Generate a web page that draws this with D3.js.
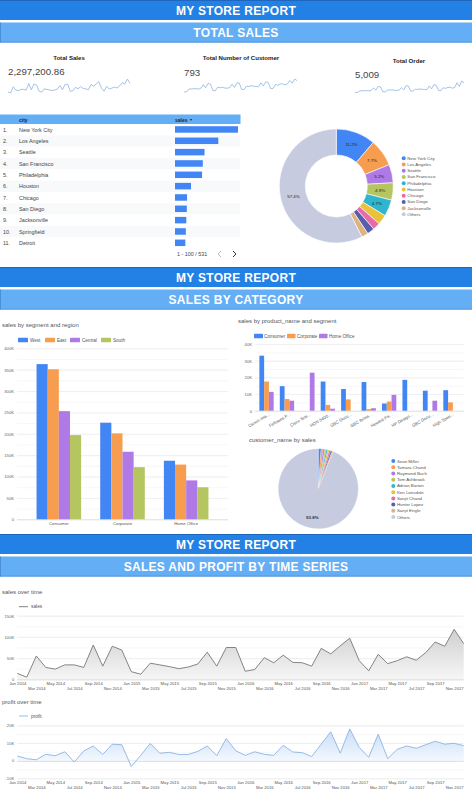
<!DOCTYPE html>
<html>
<head>
<meta charset="utf-8">
<script src="https://cdn.jsdelivr.net/npm/d3@7"></script>
<style>
  body { margin: 0; background: #fff; overflow: hidden; }
  svg { display: block; font-family: "Liberation Sans", Arial, sans-serif; }
  .domain { display: none; }
</style>
</head>
<body>
<div id="chart"></div>
<script>
// ---- data ----
const months = [
  "Jan 2014","Feb 2014","Mar 2014","Apr 2014","May 2014","Jun 2014","Jul 2014","Aug 2014","Sep 2014","Oct 2014","Nov 2014","Dec 2014",
  "Jan 2015","Feb 2015","Mar 2015","Apr 2015","May 2015","Jun 2015","Jul 2015","Aug 2015","Sep 2015","Oct 2015","Nov 2015","Dec 2015",
  "Jan 2016","Feb 2016","Mar 2016","Apr 2016","May 2016","Jun 2016","Jul 2016","Aug 2016","Sep 2016","Oct 2016","Nov 2016","Dec 2016",
  "Jan 2017","Feb 2017","Mar 2017","Apr 2017","May 2017","Jun 2017","Jul 2017","Aug 2017","Sep 2017","Oct 2017","Nov 2017","Dec 2017"
];
const salesByMonth = [
  14, 5, 55, 28, 24, 34, 34, 28, 81, 31, 78, 69,
  18, 12, 38, 34, 30, 25, 29, 36, 64, 31, 75, 75,
  19, 23, 51, 39, 57, 40, 39, 31, 73, 60, 79, 97,
  44, 20, 59, 37, 44, 53, 45, 63, 88, 78, 118, 84
];
const profitByMonth = [
  2.6, 1.1, 0.5, 3.6, 2.8, 5, -0.8, 5.5, 8.3, 3.5, 9.3, 9,
  -3.3, 3, 9.7, 4.2, 4.7, 3.5, 3.5, 5.2, 8.3, 2.8, 12.5, 5.6,
  3, 5, 3.6, 3, 8.7, 4.9, 4.5, 2.3, 9.3, 16.4, 4.2, 18,
  7.5, 1.9, 15, 1.1, 6.4, 8.3, 7, 9, 11, 9.3, 9.8, 8.5
];
const customersByMonth = [
  30, 28, 58, 60, 62, 64, 58, 68, 105, 72, 118, 112,
  44, 40, 78, 72, 78, 70, 68, 74, 110, 76, 125, 122,
  56, 54, 90, 86, 96, 88, 86, 82, 125, 92, 135, 130,
  66, 62, 108, 98, 112, 114, 102, 112, 150, 120, 165, 148
];
const ordersByMonth = [
  30, 28, 60, 62, 65, 65, 60, 70, 120, 75, 150, 140,
  45, 40, 80, 75, 80, 72, 70, 75, 125, 80, 165, 160,
  60, 55, 95, 90, 100, 90, 90, 85, 160, 100, 185, 175,
  70, 65, 125, 110, 130, 135, 115, 130, 225, 150, 260, 225
];
const cities = ["New York City","Los Angeles","Seattle","San Francisco","Philadelphia","Houston","Chicago","San Diego","Jacksonville","Springfield","Detroit"];
const citySales = [256, 176, 120, 113, 110, 65, 49, 48, 46, 44, 42];
const donutLabels = ["New York City","Los Angeles","Seattle","San Francisco","Philadelphia","Houston","Chicago","San Diego","Jacksonville","Others"];
const donutShares = [11.2, 7.7, 5.2, 4.9, 4.7, 2.8, 2.1, 2.1, 1.9, 57.4];
const segments = ["Consumer","Corporate","Home Office"];
const regions = ["West","East","Central","South"];
const westSales = [363, 226, 137];
const eastSales = [351, 201, 128];
const centralSales = [253, 158, 91];
const southSales = [197, 122, 75];
const products = ["Canon ima...","Fellowes P...","Cisco Tele...","HON 5400...","GBC Docu...","GBC Ibima...","Hewlett Pa...","HP Design...","GBC Docu... ","High Spee..."];
const consumerProducts = [33, 14.7, 0, 17.5, 13, 17.2, 4.3, 18.5, 12, 12.3];
const corporateProducts = [17.5, 7, 0, 3.5, 6.8, 1, 5.5, 0, 0, 5];
const homeOfficeProducts = [11.3, 6, 22.8, 1.2, 0, 1.5, 9.5, 0, 6, 0];
const customers = ["Sean Miller","Tamara Chand","Raymond Buch","Tom Ashbrook","Adrian Barton","Ken Lonsdale","Sanjit Chand","Hunter Lopez","Sanjit Engle","Others"];
const customerShares = [1.1, 0.8, 0.7, 0.6, 0.6, 0.6, 0.6, 0.6, 0.5, 93.8];
const palette = ["#4285f4","#f79d4f","#b07ae6","#b5c55f","#2fb5d0","#e9c23b","#e86ba8","#5a5cb0","#dcb47f","#c6cbe0"];

const svg = d3.select("#chart").append("svg").attr("width", 472).attr("height", 800);
const defs = svg.append("defs");

function label(x, y, txt, size, opts) {
  opts = opts || {};
  return svg.append("text")
    .attr("x", x).attr("y", y)
    .attr("text-anchor", opts.anchor || "start")
    .attr("dominant-baseline", "central")
    .attr("font-size", size)
    .attr("font-weight", opts.weight || "normal")
    .attr("letter-spacing", opts.spacing || 0)
    .attr("fill", opts.fill || "#555")
    .text(txt);
}

// ---- banners ----
function banner(top, title) {
  svg.append("rect").attr("x", 0).attr("y", top).attr("width", 472).attr("height", 20).attr("fill", "#2381e5");
  svg.append("rect").attr("x", 0).attr("y", top).attr("width", 472).attr("height", 1).attr("fill", "#1f66bd");
  label(236, top + 10.5, "MY STORE REPORT", 12, { anchor: "middle", weight: "bold", fill: "#fff", spacing: 0.3 });
  svg.append("rect").attr("x", 0).attr("y", top + 22.5).attr("width", 472).attr("height", 20).attr("fill", "#63aef5");
  svg.append("rect").attr("x", 0).attr("y", top + 22.5).attr("width", 1).attr("height", 20).attr("fill", "#4a8fd8");
  svg.append("rect").attr("x", 0).attr("y", top + 41.7).attr("width", 472).attr("height", 0.8).attr("fill", "#4a8fd8");
  label(236, top + 33, title, 12, { anchor: "middle", weight: "bold", fill: "#fff", spacing: 0.3 });
}
banner(0, "TOTAL SALES");
banner(267, "SALES BY CATEGORY");
banner(534, "SALES AND PROFIT BY TIME SERIES");

// ---- scorecards ----
function scorecard(cx, titleY, title, valueX, value, values, x0, x1, yTop, yBottom) {
  label(cx, titleY, title, 6.1, { anchor: "middle", weight: "bold", fill: "#222" });
  label(valueX, titleY + 14.5, value, 9.7, { fill: "#444" });
  const x = d3.scalePoint().domain(months).range([x0, x1]);
  const y = d3.scaleLinear().domain(d3.extent(values)).range([yBottom, yTop]);
  svg.append("path")
    .attr("d", d3.line().x((d, i) => x(months[i])).y(d => y(d))(values))
    .attr("fill", "none").attr("stroke", "#8fb4e0").attr("stroke-width", 0.8);
}
scorecard(69, 57, "Total Sales", 8, "2,297,200.86", salesByMonth, 8, 130, 79, 93);
scorecard(241, 57.5, "Total Number of Customer", 184, "793", customersByMonth, 184, 297, 79, 92);
scorecard(409, 60, "Total Order", 355, "5,009", ordersByMonth, 355, 464, 81, 92.5);

// ---- city table ----
const rowY = d3.scaleBand().domain(cities).range([124, 248.7]);
const cityX = d3.scaleLinear().domain([0, 256]).range([175, 238]);
svg.append("rect").attr("x", 0).attr("y", 114.5).attr("width", 240.5).attr("height", 9.5).attr("fill", "#63aef5");
label(19, 119.5, "city", 5, { weight: "bold", fill: "#223" });
label(175, 119.5, "sales", 5, { weight: "bold", fill: "#223" });
label(190, 119.5, "▾", 4, { fill: "#223" });
svg.selectAll(".row").data(cities).join("rect").attr("class", "row")
  .attr("x", 0).attr("y", d => rowY(d)).attr("width", 240).attr("height", rowY.bandwidth())
  .attr("fill", (d, i) => i % 2 ? "#f8f9fa" : "#fff");
cities.forEach((c, i) => {
  label(3, rowY(c) + 5.8, (i + 1) + ".", 5.4, { fill: "#444" });
  label(19, rowY(c) + 5.8, c, 5.4, { fill: "#444" });
});
svg.selectAll(".citybar").data(citySales).join("rect").attr("class", "citybar")
  .attr("x", cityX(0)).attr("y", (d, i) => rowY(cities[i]) + 2.2)
  .attr("width", d => cityX(d) - cityX(0)).attr("height", 6.5).attr("fill", palette[0]);
label(177, 254, "1 - 100 / 531", 5.4, { fill: "#444" });
svg.append("path").attr("d", "M221,251L218,254L221,257").attr("fill", "none").attr("stroke", "#aaa").attr("stroke-width", 0.8);
svg.append("path").attr("d", "M233,251L236,254L233,257").attr("fill", "none").attr("stroke", "#333").attr("stroke-width", 1);

// ---- donut and pie ----
function ring(cx, cy, outer, inner, values, gap) {
  const arc = d3.arc().innerRadius(inner).outerRadius(outer);
  const g = svg.append("g").attr("transform", `translate(${cx},${cy})`);
  const arcs = d3.pie().sort(null)(values);
  g.selectAll("path").data(arcs).join("path")
    .attr("d", arc)
    .attr("fill", (d, i) => palette[i])
    .attr("stroke", "#fff").attr("stroke-width", gap);
  return { g, arcs, arc };
}
function roundLegend(x, top, step, names) {
  svg.selectAll(null).data(names).join("circle")
    .attr("cx", x).attr("cy", (d, i) => top + i * step).attr("r", 2)
    .attr("fill", (d, i) => palette[i]);
  names.forEach((n, i) => label(x + 3.6, top + i * step, n, 4.4, { fill: "#555" }));
}
const donut = ring(336.3, 186, 57, 31, donutShares, 0.6);
donut.g.selectAll("text").data(donut.arcs.filter(d => d.data >= 4 )).join("text")
  .attr("transform", d => `translate(${donut.arc.centroid(d)})`)
  .attr("text-anchor", "middle").attr("dominant-baseline", "central")
  .attr("font-size", 4.4).attr("fill", "#222")
  .text(d => d.data.toFixed(1) + "%");
roundLegend(403.7, 158.3, 6.23, donutLabels);

label(249, 440, "customer_name by sales", 6);
const pie = ring(318.3, 488.7, 40, 0, customerShares, 0.2);
pie.g.append("text").attr("x", -6).attr("y", 28.5)
  .attr("text-anchor", "middle").attr("dominant-baseline", "central")
  .attr("font-size", 4.4).attr("font-weight", "bold").attr("fill", "#333")
  .text(customerShares[9].toFixed(1) + "%");
roundLegend(393.3, 461, 6.23, customers);

// ---- grouped bars ----
function grouped(cfg) {
  const y = d3.scaleLinear().domain([0, cfg.max]).range([cfg.bottom, cfg.top]);
  const g = svg.append("g");
  const gridLen = cfg.right - cfg.left;
  // lighter half-step lines first, then the labelled ones
  g.append("g").attr("transform", `translate(${cfg.left},0)`)
    .call(d3.axisLeft(y).tickValues(d3.range(0, cfg.max + 1, cfg.minor)).tickSize(-gridLen).tickFormat(""))
    .selectAll("line").attr("stroke", "#f4f4f4").attr("stroke-width", 0.7);
  g.append("g").attr("transform", `translate(${cfg.left},0)`)
    .call(d3.axisLeft(y).tickValues(d3.range(0, cfg.max + 1, cfg.major)).tickSize(-gridLen).tickFormat(d => d ? d + "K" : "0"))
    .call(a => a.selectAll("line").attr("stroke", d => d ? "#ececec" : "#d5d5d5").attr("stroke-width", 0.7))
    .call(a => a.selectAll("text").attr("x", -3).attr("font-size", 4.2).attr("fill", "#666").attr("font-family", "inherit"));
  const x0 = d3.scaleBand().domain(cfg.groups).range(cfg.band).paddingInner(cfg.inner).paddingOuter(cfg.inner / 2);
  const x1 = d3.scaleBand().domain(cfg.names).range([0, x0.bandwidth()]);
  cfg.names.forEach((name, s) => {
    g.selectAll(null).data(cfg.series[s]).join("rect")
      .attr("x", (d, i) => x0(cfg.groups[i]) + x1(name))
      .attr("y", d => y(d))
      .attr("width", x1.bandwidth() - cfg.gap)
      .attr("height", d => y(0) - y(d))
      .attr("fill", palette[s]);
  });
  return { x0, y };
}
function barLegend(y, swatches) {
  swatches.forEach((s, i) => {
    svg.append("rect").attr("x", s[0]).attr("y", y - 2.3).attr("width", s[1]).attr("height", 4.6).attr("rx", 0.6).attr("fill", palette[i]);
    label(s[2], y, s[3], 4.6, { fill: "#555" });
  });
}

label(2, 325, "sales by segment and region", 6);
barLegend(340, [[18, 10, 30, regions[0]], [45, 10, 57, regions[1]], [70, 10, 82, regions[2]], [101, 10, 113, regions[3]]]);
const c1 = grouped({
  groups: segments, names: regions, series: [westSales, eastSales, centralSales, southSales],
  max: 400, major: 50, minor: 25, left: 17, right: 228, top: 348.3, bottom: 519.3,
  band: [27, 218], inner: 0.3, gap: 0
});
segments.forEach(s => label(c1.x0(s) + c1.x0.bandwidth() / 2, 523.5, s, 4.3, { anchor: "middle", fill: "#555" }));

label(238, 321, "sales by product_name and segment", 6);
barLegend(336, [[254, 9, 264, segments[0]], [287, 8.5, 297, segments[1]], [319, 8.5, 329, segments[2]]]);
const c2 = grouped({
  groups: products, names: segments, series: [consumerProducts, corporateProducts, homeOfficeProducts],
  max: 40, major: 10, minor: 5, left: 255, right: 463.7, top: 344, bottom: 410.7,
  band: [256.3, 460.7], inner: 0.3, gap: 0
});
products.forEach(p => {
  const px = c2.x0(p) + c2.x0.bandwidth() / 2 + 3;
  svg.append("text").attr("transform", `translate(${px},414) rotate(-30)`)
    .attr("text-anchor", "end").attr("dominant-baseline", "central")
    .attr("font-size", 4.3).attr("fill", "#555").text(p);
});

// ---- time series ----
function timeSeries(cfg) {
  const x = d3.scalePoint().domain(months).range([17.3, 463.7]);
  const y = d3.scaleLinear().domain(cfg.domain).range([cfg.bottom, cfg.top]);
  const g = svg.append("g");
  g.append("g").attr("transform", "translate(17.3,0)")
    .call(d3.axisLeft(y).tickValues(d3.range(cfg.domain[0], cfg.domain[1] + 1, cfg.minor)).tickSize(-446.4).tickFormat(""))
    .selectAll("line").attr("stroke", "#f2f2f2").attr("stroke-width", 0.7);
  g.append("g").attr("transform", "translate(17.3,0)")
    .call(d3.axisLeft(y).tickValues(cfg.ticks).tickSize(-446.4).tickFormat(d => d ? d + "K" : "0"))
    .call(a => a.selectAll("line").attr("stroke", d => d ? "#ececec" : "#d5d5d5").attr("stroke-width", d => d ? 0.7 : 1))
    .call(a => a.selectAll("text").attr("x", -3).attr("font-size", 4.2).attr("fill", "#666").attr("font-family", "inherit"));
  const grad = defs.append("linearGradient").attr("id", cfg.id).attr("gradientUnits", "userSpaceOnUse")
    .attr("x1", 0).attr("x2", 0).attr("y1", cfg.gradTop).attr("y2", y(Math.max(cfg.domain[0], 0)));
  grad.append("stop").attr("offset", 0).attr("stop-color", cfg.fillTop);
  grad.append("stop").attr("offset", 1).attr("stop-color", cfg.fillBottom);
  g.append("path")
    .attr("d", d3.area().x((d, i) => x(months[i])).y0(y(0)).y1(d => y(d))(cfg.values))
    .attr("fill", `url(#${cfg.id})`);
  g.append("path")
    .attr("d", d3.line().x((d, i) => x(months[i])).y(d => y(d))(cfg.values))
    .attr("fill", "none").attr("stroke", cfg.stroke).attr("stroke-width", 0.9);
  g.append("g").attr("transform", `translate(0,${cfg.bottom})`)
    .call(d3.axisBottom(x).tickValues(months.filter((m, i) => i % 2 === 0)).tickSize(0))
    .selectAll("text")
    .attr("y", (d, i) => cfg.labelGap + (i % 2 ? 5.1 : 0)).attr("dy", 0)
    .attr("dominant-baseline", "central")
    .attr("font-size", 4.2).attr("fill", "#555").attr("font-family", "inherit");
  svg.append("line").attr("x1", 19).attr("x2", 28).attr("y1", cfg.legendY).attr("y2", cfg.legendY).attr("stroke", cfg.stroke).attr("stroke-width", 0.9);
  label(31, cfg.legendY, cfg.name, 4.8, { fill: "#555" });
}

label(2, 592, "sales over time", 6);
timeSeries({
  id: "salesFill", name: "sales", values: salesByMonth, domain: [0, 150], ticks: [0, 50, 100, 150], minor: 25,
  top: 615.7, bottom: 679.3, gradTop: 629, fillTop: "#cfcfcf", fillBottom: "#f6f6f6",
  stroke: "#777", legendY: 606.7, labelGap: 4
});
label(2, 702, "profit over time", 6);
timeSeries({
  id: "profitFill", name: "profit", values: profitByMonth, domain: [-10, 20], ticks: [-10, 0, 10, 20], minor: 5,
  top: 725.3, bottom: 778.3, gradTop: 728, fillTop: "#c6dcf7", fillBottom: "#f3f8fe",
  stroke: "#8db3e2", legendY: 716, labelGap: 4.5
});
</script>
</body>
</html>
